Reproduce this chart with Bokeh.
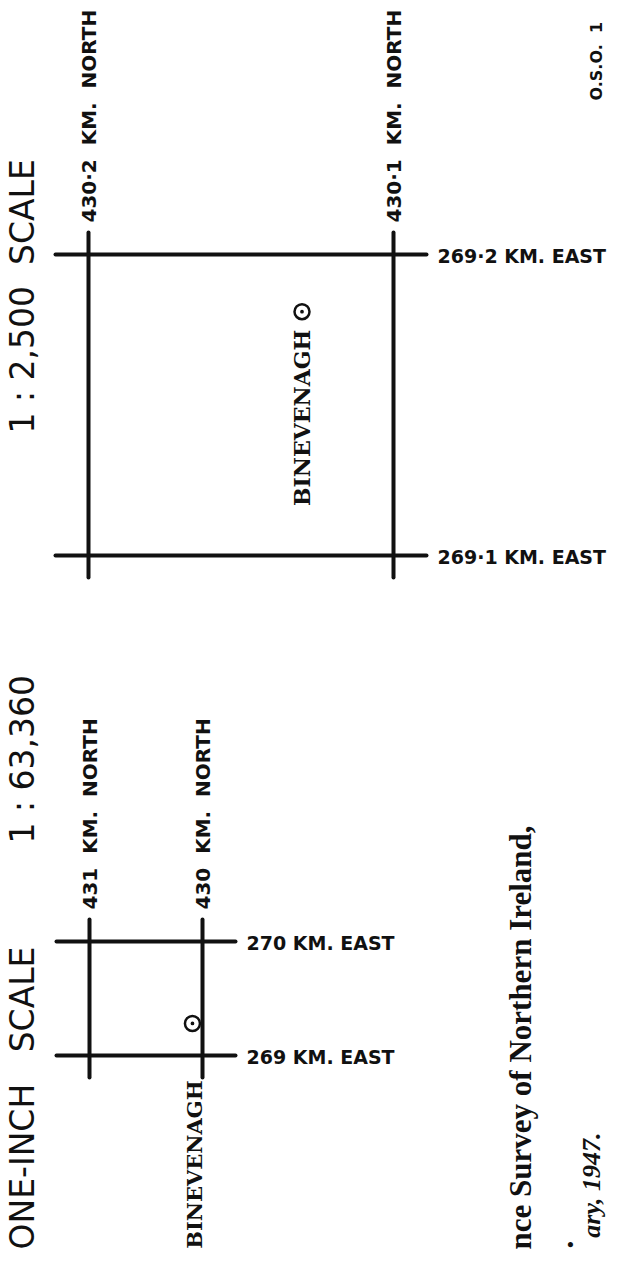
import math
from bokeh.plotting import figure
from bokeh.models import Range1d
from bokeh.core.properties import value
from bokeh.embed import file_html
from bokeh.resources import INLINE

# ---------------- data ----------------
NB = " \u00a0"   # visible double space in SVG text

large_scale_title = "1 : 2,500" + NB + "SCALE"
small_scale_name = "ONE-INCH" + NB + "\u00a0SCALE"
small_scale_ratio = "1 : 63,360"

north_2500 = [430.2, 430.1]      # km north grid lines (1:2,500 sheet)
east_2500 = [269.2, 269.1]       # km east grid lines (1:2,500 sheet)
north_63360 = [431, 430]         # km north grid lines (one-inch sheet)
east_63360 = [270, 269]          # km east grid lines (one-inch sheet)

site_name = "BINEVENAGH"
site_2500_n, site_2500_e = [430.130], [269.181]
site_63360_n, site_63360_e = [430.089], [269.281]

publisher_line = "nce Survey of Northern Ireland,"
date_line = "ary, 1947."
print_code = "O.S.O." + NB + "1"

INK = "#111111"
UP = math.pi / 2

# ---------------- page / frame ----------------
W, H = 609, 1251
PX0, PX1 = 0, W
PY0, PY1 = 0, H


def calib(v1, p1, v2, p2, lo, hi):
    k = (v2 - v1) / (p2 - p1)
    return Range1d(start=v1 + (lo - p1) * k, end=v1 + (hi - p1) * k)


p = figure(width=W, height=H, title=None,
           x_range=Range1d(PX0, PX1), y_range=Range1d(PY1, PY0),
           x_axis_type=None, y_axis_type=None,
           output_backend="svg", toolbar_location=None, min_border=0)
p.outline_line_color = None
p.background_fill_color = "white"
p.border_fill_color = "white"

# grid-diagram calibrations (layout: where each km line sits on the page)
p.extra_x_ranges = {
    "n25": calib(north_2500[0], 88, north_2500[1], 393, PX0, PX1),
    "n63": calib(north_63360[0], 89, north_63360[1], 202, PX0, PX1),
}
p.extra_y_ranges = {
    "e25": calib(east_2500[0], 254, east_2500[1], 555, PY1, PY0),
    "e63": calib(east_63360[0], 941, east_63360[1], 1055, PY1, PY0),
}


def grid(norths, easts, xr, yr, km_per_px_n, km_per_px_e):
    ov_n = 33 * km_per_px_n
    ov_e = 22 * km_per_px_e
    nmax, nmin = max(norths), min(norths)
    emax, emin = max(easts), min(easts)
    p.segment(x0=norths, x1=norths,
              y0=[emin - ov_e] * len(norths), y1=[emax + ov_e] * len(norths),
              line_color=INK, line_width=4, line_cap="round",
              x_range_name=xr, y_range_name=yr)
    p.segment(x0=[nmax + ov_n] * len(easts), x1=[nmin - ov_n] * len(easts),
              y0=easts, y1=easts,
              line_color=INK, line_width=4, line_cap="round",
              x_range_name=xr, y_range_name=yr)


grid(north_2500, east_2500, "n25", "e25", 0.1 / 305, 0.1 / 301)
grid(north_63360, east_63360, "n63", "e63", 1 / 113, 1 / 114)


def fmt(v, nd):
    return f"{v:.{nd}f}".replace(".", "·")


# grid labels
for norths, easts, xr, yr, nd in [(north_2500, east_2500, "n25", "e25", 1),
                                   (north_63360, east_63360, "n63", "e63", 0)]:
    p.text(x=norths, y=[max(easts)] * len(norths),
           text=[fmt(n, nd) + NB + "KM." + NB + "NORTH" for n in norths],
           angle=UP, text_align="left", text_baseline="middle",
           x_offset=0, y_offset=-32,
           text_font=value("DejaVu Sans"), text_font_style="bold",
           text_font_size="20px", text_color=INK,
           x_range_name=xr, y_range_name=yr)
    p.text(x=[min(norths)] * len(easts), y=easts,
           text=[fmt(e, nd) + " KM. EAST" for e in easts],
           angle=0, text_align="left", text_baseline="middle",
           x_offset=44, y_offset=1.5,
           text_font=value("DejaVu Sans"), text_font_style="bold",
           text_font_size="19px", text_color=INK,
           x_range_name=xr, y_range_name=yr)

# trig point + name
for sn, se, xr, yr, xo, yo, fs in [(site_2500_n, site_2500_e, "n25", "e25", 0, 18, "22px"),
                                   (site_63360_n, site_63360_e, "n63", "e63", 2, 57, "21px")]:
    p.scatter(x=sn, y=se, marker="circle_dot", size=15, fill_color=None,
              line_color=INK, line_width=2.5, x_range_name=xr, y_range_name=yr)
    p.text(x=sn, y=se, text=[site_name], angle=UP,
           text_align="right", text_baseline="middle",
           x_offset=xo, y_offset=yo,
           text_font=value("DejaVu Serif"), text_font_style="bold",
           text_font_size=fs, text_color=INK,
           x_range_name=xr, y_range_name=yr)

# titles (page-pixel placement)
p.text(x=[21.5, 21.5, 21.5], y=[433, 843, 1249],
       text=[large_scale_title, small_scale_ratio, small_scale_name],
       angle=UP, text_align="left", text_baseline="middle",
       text_font=value("DejaVu Sans"), text_font_size="33px", text_color=INK)

# imprint text at the foot of the sheet
p.text(x=[520], y=[825], text=[publisher_line], angle=UP,
       text_align="right", text_baseline="middle",
       text_font=value("Liberation Serif"), text_font_style="bold",
       text_font_size="31px", text_color=INK)
p.text(x=[562], y=[1244], text=["."], angle=UP,
       text_align="center", text_baseline="middle",
       text_font=value("Liberation Serif"), text_font_style="bold",
       text_font_size="31px", text_color=INK)
p.text(x=[591], y=[1132], text=[date_line], angle=UP,
       text_align="right", text_baseline="middle",
       text_font=value("Liberation Serif"), text_font_style="bold italic",
       text_font_size="26px", text_color=INK)
p.text(x=[596], y=[100], text=[print_code], angle=UP,
       text_align="left", text_baseline="middle",
       text_font=value("DejaVu Sans"), text_font_style="bold",
       text_font_size="16px", text_color=INK)

open("out.html", "w").write(file_html(p, INLINE))
